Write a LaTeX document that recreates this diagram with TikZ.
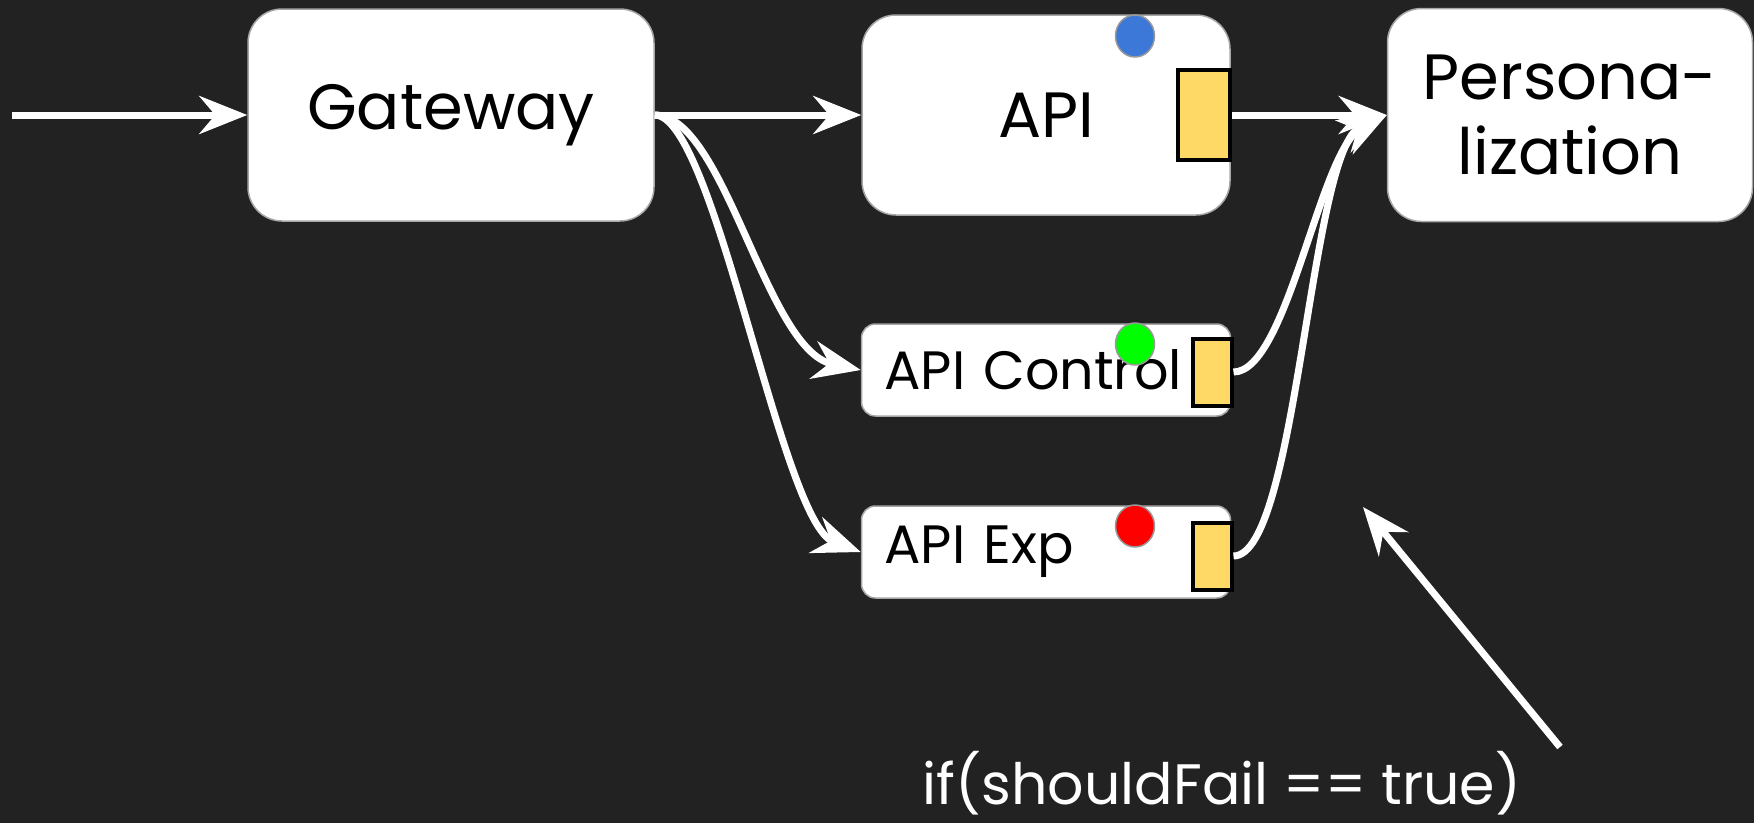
\documentclass[tikz,border=0pt]{standalone}
\usepackage{fontspec}
\setmainfont{Poppins}
\usetikzlibrary{arrows.meta,shapes.geometric}
\definecolor{bgdark}{HTML}{222222}
\definecolor{portyellow}{HTML}{FFD966}
\definecolor{ledblue}{HTML}{3C78D8}
\definecolor{ledgreen}{HTML}{00FF00}
\definecolor{ledred}{HTML}{FF0000}

\begin{document}
\begin{tikzpicture}[x=1pt, y=-1pt,
            box/.style={draw=gray!70, line width=1.5pt, fill=white, rounded corners=34pt, inner sep=0pt, font=\fontsize{64}{75}\selectfont},
            smallbox/.style={draw=gray!70, line width=1.5pt, fill=white, rounded corners=14pt, text width=323pt, align=left, inner xsep=23pt, inner ysep=0pt, minimum height=92pt, font=\fontsize{54}{60}\selectfont},
            port/.style={draw=black, line width=4pt, fill=portyellow, inner sep=0pt},
            led/.style={ellipse, draw=gray!80, line width=1.5pt, minimum width=39pt, minimum height=42pt, inner sep=0pt},
            arrow/.style={-{Stealth[length=48pt, width=38pt, inset=16pt]}, draw=white, line width=7pt},
            condtext/.style={text=white, font=\fontsize{57}{64}\selectfont}
        ]
            % Backdrop
            \fill[bgdark] (0,0) rectangle (1754,823);
            \useasboundingbox (0,0) rectangle (1754,823);

            % Top row - services
            \node[box, minimum width=406pt, minimum height=212pt] (gateway) at (451,115) {Gateway};
            \node[box, minimum width=368pt, minimum height=200pt] (api) at (1046,115) {API};
            \node[box, minimum width=365pt, minimum height=213pt, align=center] (perso) at (1570,115) {Persona-\\lization};

            % Experiment variants
            \node[smallbox] (control) at (1046,370) {API Control};
            \node[smallbox] (exp) at (1046,552) {API Exp};

            % Ports
            \node[port, minimum width=52pt, minimum height=90pt] (apiport) at (1204,115) {};
            \node[port, minimum width=39pt, minimum height=67pt] (controlport) at (1212,372) {};
            \node[port, minimum width=39pt, minimum height=67pt] (expport) at (1212,556) {};

            % Status lights
            \node[led, fill=ledblue] (apiled) at (1135,36) {};
            \node[led, fill=ledgreen] (controlled) at (1135,344) {};
            \node[led, fill=ledred] (expled) at (1135,526) {};

            % Requests in
            \coordinate (client) at (12,115);
            \draw[arrow] (client) -- (gateway.west);
            \draw[arrow] (gateway.east) -- (api.west);
            \draw[arrow] (gateway.east) .. controls +(70,0) and +(-95,-20) .. (control.west);
            \draw[arrow] (gateway.east) .. controls +(60,0) and +(-80,-30) .. (exp.west);

            % Responses out
            \draw[arrow] (apiport.east) -- (perso.west);
            \draw[arrow] (controlport.east) .. controls +(54,0) and +(-67,35) .. (perso.west);
            \draw[arrow] (expport.east) .. controls +(64,0) and +(-77,35) .. (perso.west);

            % Failure switch
            \coordinate (note) at (1560,747);
            \coordinate (failpoint) at (1363,507);
            \draw[arrow] (note) -- (failpoint);
            \node[condtext, anchor=base] (cond) at (1222,804) {if(shouldFail == true)};
        \end{tikzpicture}
\end{document}
